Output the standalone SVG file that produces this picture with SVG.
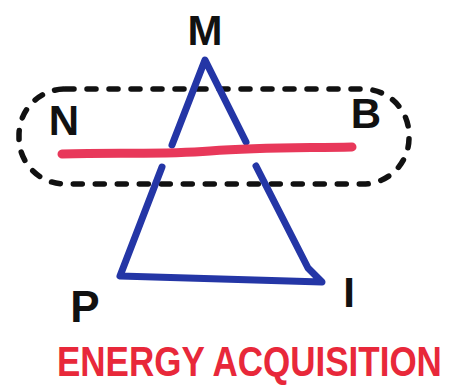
<svg xmlns="http://www.w3.org/2000/svg" width="457" height="387" viewBox="0 0 457 387">
<style>
.lbl{font-family:"Liberation Sans",Arial,sans-serif;font-weight:bold;fill:#111;text-anchor:middle}
.tri{fill:none;stroke:#2436a6;stroke-width:7;stroke-linecap:round;stroke-linejoin:round}
.title{font-family:"Liberation Sans",Arial,sans-serif;font-weight:bold;fill:#e8283a}
</style>
<rect width="457" height="387" fill="#fff"/>
<g id="connectors">
<rect id="boundary" x="19" y="89" width="390" height="95" rx="46" ry="46" fill="none" stroke="#111" stroke-width="5.5" stroke-linecap="round" stroke-dasharray="9 13"/>
<path class="tri" d="M172,145 L205,60 L246,142"/>
<path class="tri" d="M162,167 L120,276 L322,282 L308,268 L256,166"/>
<path d="M62,154 C120,152 160,155 210,151 S300,148 352,147" fill="none" stroke="#e8385a" stroke-width="9" stroke-linecap="round"/>
</g>
<g id="node-M"><text class="lbl" x="205" y="45" font-size="42">M</text></g>
<g id="node-N"><text class="lbl" x="64" y="135" font-size="42">N</text></g>
<g id="node-B"><text class="lbl" x="366" y="128" font-size="42">B</text></g>
<g id="node-P"><text class="lbl" x="85" y="322" font-size="44">P</text></g>
<g id="node-I"><text class="lbl" x="349" y="307" font-size="42">I</text></g>
<g id="title"><text class="title" transform="translate(57,376) scale(1,1.2)" x="0" y="0" font-size="35">ENERGY ACQUISITION</text></g>
</svg>
